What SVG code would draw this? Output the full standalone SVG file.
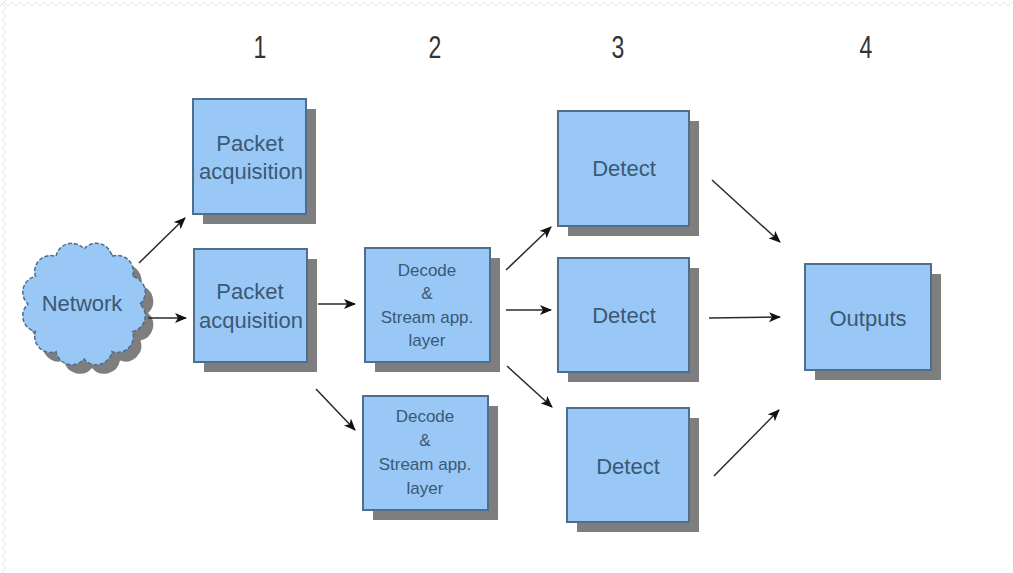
<svg xmlns="http://www.w3.org/2000/svg" width="1013" height="573" viewBox="0 0 1013 573">
<style>
.box{fill:#99c8f7;stroke:#4d6e8c;stroke-width:2}
.shadow{fill:#7e7e7e}
.lbl{font-family:"Liberation Sans",Arial,sans-serif;font-size:22px;fill:#3c5873;text-anchor:middle}
.sm{font-size:17px}
.num{font-family:"Liberation Sans",Arial,sans-serif;font-size:32px;fill:#333;text-anchor:middle}
.conn{stroke:#2a2a2a;stroke-width:1.5;fill:none;marker-end:url(#ah)}
</style>
<defs>
<marker id="ah" viewBox="0 0 12 10" refX="11" refY="5" markerWidth="12" markerHeight="10" markerUnits="userSpaceOnUse" orient="auto">
<path d="M0,0 L12,5 L0,10 L3,5 Z" fill="#111"/>
</marker>
<pattern id="zz" width="8" height="8" patternUnits="userSpaceOnUse">
<path d="M0,6 L4,2 L8,6" fill="none" stroke="#e3e3e3" stroke-width="1"/>
</pattern>
<pattern id="zzv" width="8" height="8" patternUnits="userSpaceOnUse">
<path d="M6,0 L2,4 L6,8" fill="none" stroke="#e3e3e3" stroke-width="1"/>
</pattern>
<path id="cloud" d="M140,304 A16,16 0 0 0 132.5,276.5 A16,16 0 0 0 112,256.4 A16,16 0 0 0 84,249 A16,16 0 0 0 56,256.4 A16,16 0 0 0 35.5,276.5 A16,16 0 0 0 28,304 A16,16 0 0 0 35.5,331.5 A16,16 0 0 0 56,351.6 A16,16 0 0 0 84,359 A16,16 0 0 0 112,351.6 A16,16 0 0 0 132.5,331.5 A16,16 0 0 0 140,304 Z"/>
</defs>
<rect width="1013" height="573" fill="#fff"/>
<rect x="0" y="0" width="1013" height="8" fill="url(#zz)"/>
<rect x="0" y="0" width="8" height="573" fill="url(#zzv)"/>

<g id="headers">
<text class="num" transform="translate(260,58) scale(0.72,1)">1</text>
<text class="num" transform="translate(435,58) scale(0.72,1)">2</text>
<text class="num" transform="translate(618,58) scale(0.72,1)">3</text>
<text class="num" transform="translate(866,58) scale(0.72,1)">4</text>
</g>

<g id="network">
<use href="#cloud" transform="translate(8,9)" fill="#7e7e7e"/>
<use href="#cloud" fill="#99c8f7" stroke="#4d6e8c" stroke-width="1.5" stroke-dasharray="4 2"/>
<text class="lbl" x="82" y="311">Network</text>
</g>

<g id="packet1">
<rect class="shadow" x="203" y="109" width="113" height="115"/>
<rect class="box" x="193" y="99" width="113" height="115"/>
<text class="lbl" x="250" y="151">Packet</text>
<text class="lbl" x="251" y="179">acquisition</text>
</g>

<g id="packet2">
<rect class="shadow" x="204" y="259" width="113" height="113"/>
<rect class="box" x="194" y="249" width="113" height="113"/>
<text class="lbl" x="250" y="299">Packet</text>
<text class="lbl" x="251" y="328">acquisition</text>
</g>

<g id="decode1">
<rect class="shadow" x="375" y="258" width="125" height="114"/>
<rect class="box" x="365" y="248" width="125" height="114"/>
<text class="lbl sm" x="427" y="276">Decode</text>
<text class="lbl sm" x="427" y="299">&amp;</text>
<text class="lbl sm" x="427" y="323">Stream app.</text>
<text class="lbl sm" x="427" y="346">layer</text>
</g>

<g id="decode2">
<rect class="shadow" x="373" y="406" width="125" height="114"/>
<rect class="box" x="363" y="396" width="125" height="114"/>
<text class="lbl sm" x="425" y="422">Decode</text>
<text class="lbl sm" x="425" y="446">&amp;</text>
<text class="lbl sm" x="425" y="470">Stream app.</text>
<text class="lbl sm" x="425" y="494">layer</text>
</g>

<g id="detect1">
<rect class="shadow" x="568" y="121" width="131" height="115"/>
<rect class="box" x="558" y="111" width="131" height="115"/>
<text class="lbl" x="624" y="176">Detect</text>
</g>

<g id="detect2">
<rect class="shadow" x="568" y="268" width="131" height="114"/>
<rect class="box" x="558" y="258" width="131" height="114"/>
<text class="lbl" x="624" y="323">Detect</text>
</g>

<g id="detect3">
<rect class="shadow" x="577" y="418" width="122" height="114"/>
<rect class="box" x="567" y="408" width="122" height="114"/>
<text class="lbl" x="628" y="474">Detect</text>
</g>

<g id="outputs">
<rect class="shadow" x="815" y="274" width="126" height="106"/>
<rect class="box" x="805" y="264" width="126" height="106"/>
<text class="lbl" x="868" y="326">Outputs</text>
</g>

<g id="connectors">
<line class="conn" x1="139" y1="263" x2="185" y2="218"/>
<line class="conn" x1="148" y1="318" x2="186" y2="318"/>
<line class="conn" x1="318" y1="304" x2="355" y2="304"/>
<line class="conn" x1="316" y1="389" x2="355" y2="430"/>
<line class="conn" x1="506" y1="270" x2="551" y2="227"/>
<line class="conn" x1="506" y1="310" x2="551" y2="310"/>
<line class="conn" x1="507" y1="366" x2="552" y2="407"/>
<line class="conn" x1="712" y1="180" x2="780" y2="242"/>
<line class="conn" x1="709" y1="318" x2="780" y2="317"/>
<line class="conn" x1="714" y1="476" x2="779" y2="410"/>
</g>
</svg>
